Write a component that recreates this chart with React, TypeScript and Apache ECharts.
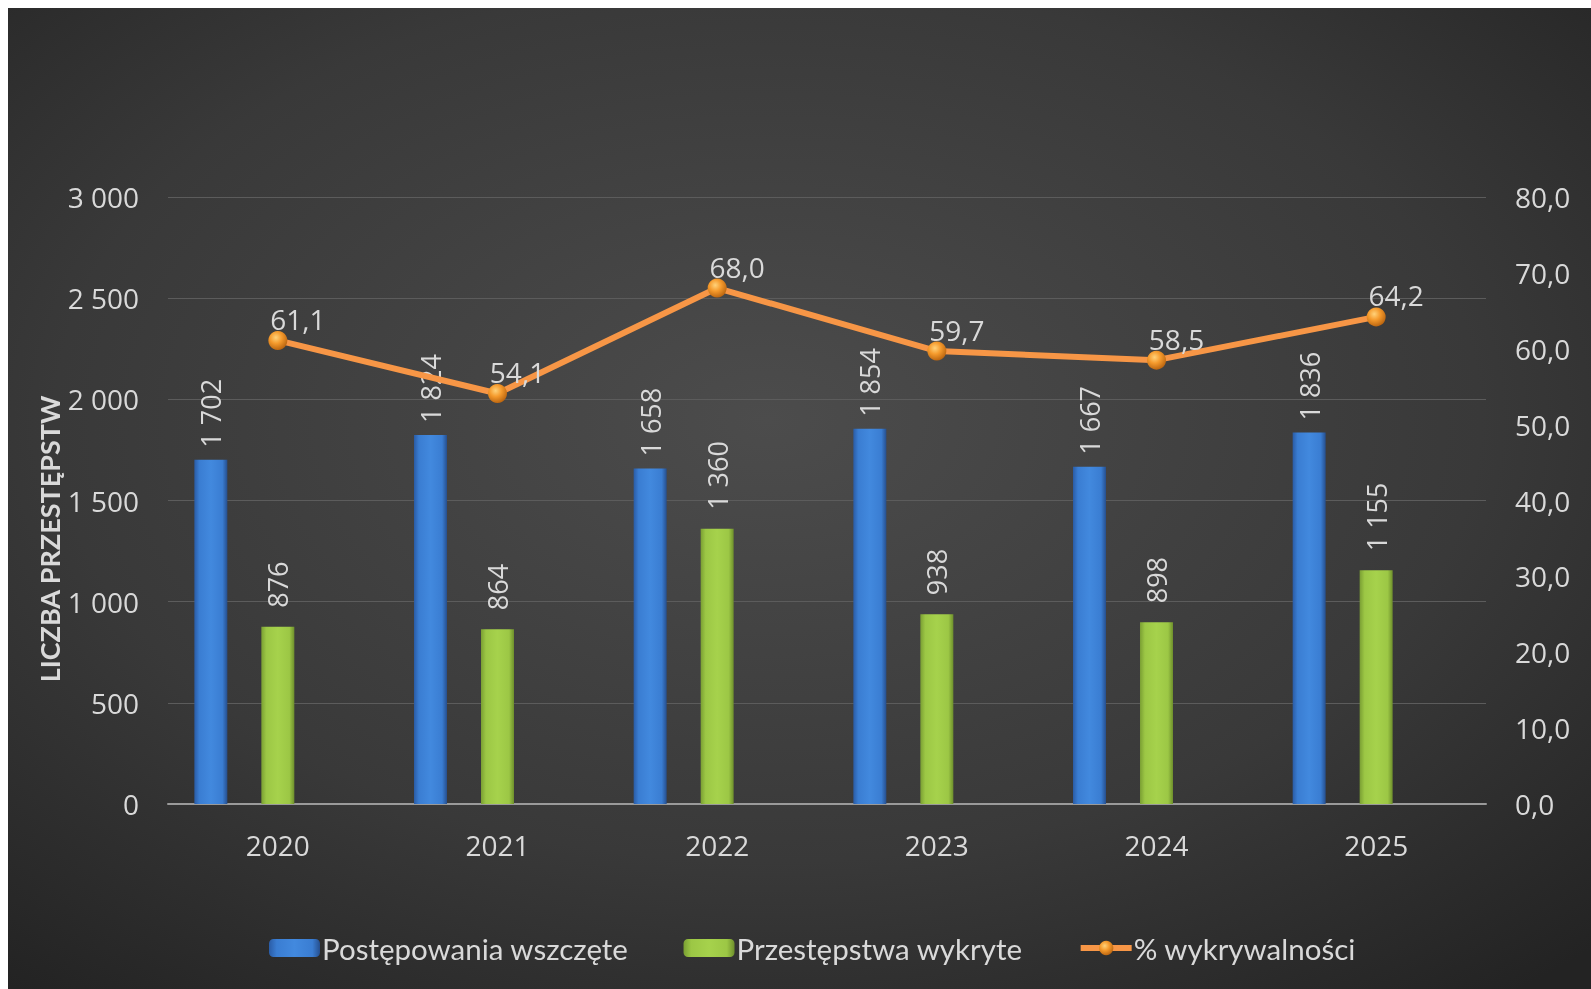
import React, { useEffect, useRef } from "react";
import * as echarts from "echarts";

const categories = ["2020", "2021", "2022", "2023", "2024", "2025"];
const postepowaniaWszczete = [1702, 1824, 1658, 1854, 1667, 1836];
const przestepstwaWykryte = [876, 864, 1360, 938, 898, 1155];
const wykrywalnosc = [61.1, 54.1, 68.0, 59.7, 58.5, 64.2];
const spacer = [null, null, null, null, null, null];

const leftTicks = { min: 0, max: 3000, interval: 500 };
const rightTicks = { min: 0, max: 80, interval: 10 };

const seriesNames = ["Postępowania wszczęte", "Przestępstwa wykryte", "% wykrywalności"];
const yTitle = "LICZBA PRZESTĘPSTW";

const fmtInt = (n: number) => String(Math.round(n)).replace(/\B(?=(\d{3})+(?!\d))/g, " ");
const fmtDec = (n: number) => n.toFixed(1).replace(".", ",");

const TXT = "#d9d9d9";
const FONT = "'Open Sans', 'DejaVu Sans', sans-serif";

export default function App() {
  const ref = useRef<HTMLDivElement>(null);
  useEffect(() => {
    if (!ref.current) return;
    const chart = echarts.init(ref.current, undefined, { renderer: "svg" });
    const blue = new echarts.graphic.LinearGradient(0, 0, 1, 0, [
      { offset: 0, color: "#2a5ca6" },
      { offset: 0.15, color: "#3a7dd2" },
      { offset: 0.5, color: "#4289de" },
      { offset: 0.85, color: "#3a7dd2" },
      { offset: 1, color: "#264f8e" },
    ]);
    const green = new echarts.graphic.LinearGradient(0, 0, 1, 0, [
      { offset: 0, color: "#7a9f33" },
      { offset: 0.15, color: "#9cc745" },
      { offset: 0.5, color: "#a6d24c" },
      { offset: 0.85, color: "#9cc745" },
      { offset: 1, color: "#6e8f2c" },
    ]);
    const ball = new echarts.graphic.RadialGradient(0.4, 0.35, 0.7, [
      { offset: 0, color: "#ffd27a" },
      { offset: 0.45, color: "#f59a2c" },
      { offset: 1, color: "#b5600d" },
    ]);
    chart.setOption({
      animation: false,
      backgroundColor: new echarts.graphic.RadialGradient(0.48, 0.42, 0.75, [
        { offset: 0, color: "#4c4c4c" },
        { offset: 0.6, color: "#393939" },
        { offset: 1, color: "#232323" },
      ]),
      textStyle: { fontFamily: FONT },
      grid: { left: 160, right: 105, top: 189, bottom: 185, containLabel: false },
      legend: {
        data: seriesNames,
        left: 256,
        top: 920,
        itemWidth: 51,
        itemHeight: 18,
        itemGap: 55,
        lineStyle: { width: 6 },
        textStyle: { color: TXT, fontSize: 29.5, fontFamily: "Lato, 'Open Sans', sans-serif", padding: [0, 0, 0, -3] },
      },
      xAxis: {
        type: "category",
        data: categories,
        axisLine: { lineStyle: { color: "#9a9a9a", width: 2 } },
        axisTick: { show: false },
        axisLabel: { color: TXT, fontSize: 28, margin: 27, fontFamily: FONT },
      },
      yAxis: [
        {
          type: "value",
          ...leftTicks,
          axisLine: { show: false },
          axisTick: { show: false },
          splitLine: { lineStyle: { color: "#5c5c5c", width: 1 } },
          axisLabel: { color: TXT, fontSize: 28, margin: 29, fontFamily: FONT, formatter: (v: number) => fmtInt(v) },
        },
        {
          type: "value",
          ...rightTicks,
          position: "right",
          axisLine: { show: false },
          axisTick: { show: false },
          splitLine: { show: false },
          axisLabel: { color: TXT, fontSize: 28, margin: 29, fontFamily: FONT, formatter: (v: number) => fmtDec(v) },
        },
      ],
      graphic: [
        {
          type: "text",
          x: 41,
          y: 531,
          rotation: Math.PI / 2,
          style: {
            text: yTitle,
            fill: TXT,
            font: "bold 27px Lato, 'Open Sans', sans-serif",
            textAlign: "center",
            textVerticalAlign: "middle",
          },
        },
      ],
      series: [
        {
          name: seriesNames[0],
          type: "bar",
          data: postepowaniaWszczete,
          barWidth: 33,
          barGap: "103%",
          itemStyle: { color: blue },
          label: {
            show: true,
            position: "top",
            rotate: 90,
            align: "left",
            verticalAlign: "middle",
            distance: 12,
            color: TXT,
            fontSize: 27,
            fontFamily: FONT,
            formatter: (p: any) => fmtInt(p.value),
          },
        },
        {
          name: seriesNames[1],
          type: "bar",
          data: przestepstwaWykryte,
          barWidth: 33,
          barGap: "103%",
          itemStyle: { color: green },
          label: {
            show: true,
            position: "top",
            rotate: 90,
            align: "left",
            verticalAlign: "middle",
            distance: 19,
            color: TXT,
            fontSize: 27,
            fontFamily: FONT,
            formatter: (p: any) => fmtInt(p.value),
          },
        },
        {
          name: "",
          type: "bar",
          data: spacer,
          barWidth: 33,
          barGap: "103%",
          silent: true,
        },
        {
          name: seriesNames[2],
          type: "line",
          yAxisIndex: 1,
          data: wykrywalnosc,
          symbol: "circle",
          symbolSize: 19,
          lineStyle: { color: "#f79646", width: 6 },
          itemStyle: { color: ball, borderWidth: 0 },
          color: "#f79646",
          label: {
            show: true,
            position: "top",
            distance: -2,
            offset: [20, 0],
            color: TXT,
            fontSize: 28,
            fontFamily: FONT,
            formatter: (p: any) => fmtDec(p.value),
          },
        },
      ],
    });
    return () => chart.dispose();
  }, []);
  return (
    <div
      ref={ref}
      style={{ position: "fixed", left: 8, top: 8, width: 1583, height: 981 }}
    />
  );
}
